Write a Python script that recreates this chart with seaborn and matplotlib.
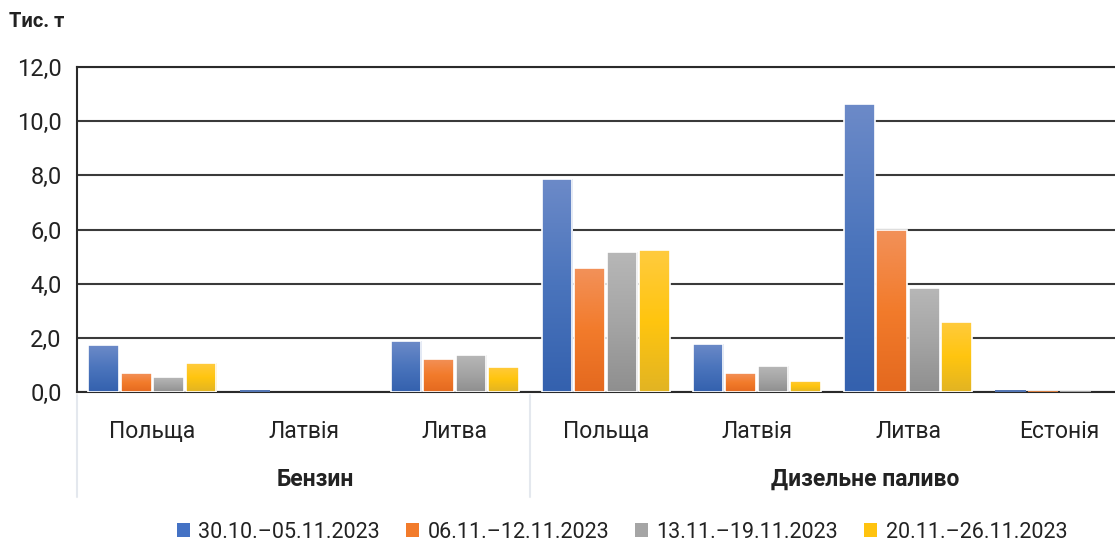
import numpy as np
import pandas as pd
import matplotlib.pyplot as plt
import matplotlib.transforms as mtransforms
from matplotlib.colors import LinearSegmentedColormap
from matplotlib.patches import Patch, Rectangle
import seaborn as sns

# data (тис. т)
fuels = ['Бензин', 'Дизельне паливо']
countries = ['Польща', 'Латвія', 'Литва', 'Польща', 'Латвія', 'Литва', 'Естонія']
keys = ['Бензин|Польща', 'Бензин|Латвія', 'Бензин|Литва',
        'Дизель|Польща', 'Дизель|Латвія', 'Дизель|Литва', 'Дизель|Естонія']
periods = ['30.10.–05.11.2023', '06.11.–12.11.2023', '13.11.–19.11.2023', '20.11.–26.11.2023']
w1 = [1.72, 0.06, 1.87, 7.87, 1.79, 10.63, 0.06]
w2 = [0.70, 0.0, 1.22, 4.57, 0.70, 6.00, 0.05]
w3 = [0.55, 0.0, 1.35, 5.17, 0.95, 3.86, 0.04]
w4 = [1.07, 0.0, 0.94, 5.23, 0.42, 2.60, 0.0]

colors = ['#4472C4', '#F27B2B', '#A5A5A5', '#FFC30F']
grad_stops = [['#6C8AC8', '#4A74BC', '#3461AE'],
              ['#F29159', '#F27B2B', '#E4691F'],
              ['#B7B7B7', '#A5A5A5', '#8F8F8F'],
              ['#FFCB3E', '#FFC50F', '#E2B423']]

df = pd.DataFrame({'key': keys * 4,
                   'period': np.repeat(periods, len(keys)),
                   'value': w1 + w2 + w3 + w4})

sns.set_theme(style='white')
plt.rcParams['font.family'] = ['Roboto', 'DejaVu Sans']

fig = plt.figure(figsize=(11.15, 5.46), dpi=100)
ax = fig.add_axes([0.069, 0.282, 0.931, 0.595])

sns.barplot(data=df, x='key', y='value', hue='period', order=keys, hue_order=periods,
            palette=colors, width=0.86, gap=0.06, edgecolor='none', linewidth=0,
            legend=False, ax=ax)

# gradient fill like the office-style bars
for cont, stops, c in zip(ax.containers, grad_stops, colors):
    cmap = LinearSegmentedColormap.from_list('g', stops)
    for bar in cont:
        x, y = bar.get_x(), bar.get_y()
        w, h = bar.get_width(), bar.get_height()
        if h <= 0:
            continue
        if h < 0.15:
            # very small values: plain flat sliver, no white outline
            bar.set_zorder(3)
            continue
        im = ax.imshow(np.linspace(0, 1, 100).reshape(-1, 1), cmap=cmap,
                       extent=[x, x + w, y, y + h], aspect='auto', origin='upper',
                       interpolation='bilinear', zorder=3)
        im.set_clip_path(bar)
        ax.add_patch(Rectangle((x, y), w, h, fill=False, ec='white', lw=1.2, zorder=4))

ax.set_xlim(-0.5, 6.37)
ax.set_ylim(0, 12)
ax.set_yticks(range(0, 13, 2))
ax.set_yticklabels([f'{v:.1f}'.replace('.', ',') for v in range(0, 13, 2)])
ax.set_xticks(range(len(countries)))
ax.set_xticklabels(countries)
ax.set_xlabel('')
ax.set_ylabel('')
ax.yaxis.grid(True, color='#3a3a3a', lw=1.5)
ax.set_axisbelow(True)
ax.tick_params(axis='y', length=0, pad=11, labelsize=17, labelcolor='#222222')
ax.tick_params(axis='x', length=0, pad=20, labelsize=16.5, labelcolor='#222222')
for s in ['left', 'bottom', 'top']:
    ax.spines[s].set_color('#2a2a2a')
    ax.spines[s].set_linewidth(1.5)
ax.spines['right'].set_visible(False)

# group separators and group labels under the axis
trans = mtransforms.blended_transform_factory(ax.transData, fig.transFigure)
for xs in [-0.5, 2.5]:
    ax.plot([xs, xs], [1 - 395 / 546, 1 - 497 / 546], color='#e4e8ee', lw=1.5,
            transform=trans, clip_on=False)
ax.text(1.08, 1 - 479 / 546, fuels[0], transform=trans, ha='center', va='center',
        fontsize=16.5, fontweight='bold', color='#222222')
ax.text(4.72, 1 - 479 / 546, fuels[1], transform=trans, ha='center', va='center',
        fontsize=16.5, fontweight='bold', color='#222222')

fig.text(0.008, 0.96, 'Тис. т', fontsize=14.5, fontweight='bold', va='center', color='#222222')

handles = [Patch(facecolor=c, edgecolor='none') for c in colors]
fig.legend(handles, periods, loc='center', bbox_to_anchor=(0.558, 0.025), ncol=4,
           frameon=False, fontsize=15.5, handlelength=0.6, handleheight=0.6,
           handletextpad=0.4, columnspacing=1.2, labelcolor='#222222')

fig.savefig('out.png', dpi=100)
